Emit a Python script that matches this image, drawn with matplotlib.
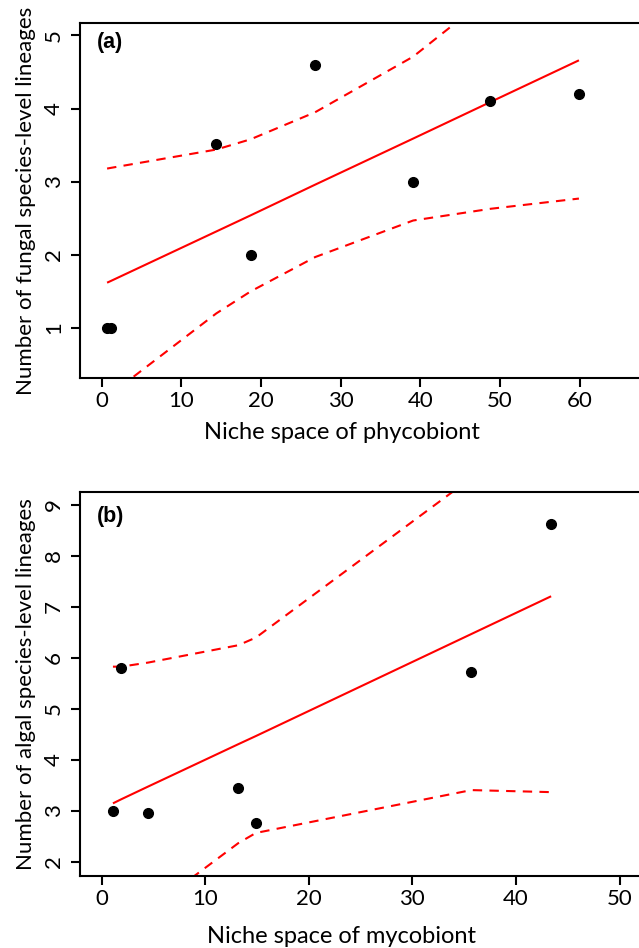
import numpy as np
import matplotlib
matplotlib.use("Agg")
import matplotlib.pyplot as plt

plt.rcParams["font.family"] = ["Lato", "DejaVu Sans"]

# -------------------------------
# Panel (a): fungal lineages vs phycobiont niche space
# -------------------------------

a_x = [0.7, 1.2, 14.4, 18.7, 26.8, 39.1, 48.8, 59.9]
a_y = [1.0, 1.0, 3.52, 2.0, 4.6, 3.0, 4.1, 4.2]
a_fit = [1.62, 1.645, 2.32, 2.54, 2.96, 3.59, 4.09, 4.66]
a_upper = [3.18, 3.19, 3.44, 3.58, 3.95, 4.71, 5.55, 6.55]
a_lower = [0.06, 0.10, 1.20, 1.50, 1.97, 2.47, 2.63, 2.77]
a_xticks = [0, 10, 20, 30, 40, 50, 60]
a_yticks = [1, 2, 3, 4, 5]

# -------------------------------
# Panel (b): algal lineages vs mycobiont niche space
# -------------------------------

b_x = [1.1, 1.9, 4.5, 13.2, 14.9, 35.7, 43.4]
b_y = [3.0, 5.81, 2.96, 3.46, 2.76, 5.72, 8.63]
b_fit = [3.15, 3.23, 3.48, 4.31, 4.47, 6.47, 7.21]
b_upper = [5.83, 5.83, 5.91, 6.25, 6.40, 9.53, 11.05]
b_lower = [0.47, 0.63, 1.05, 2.37, 2.57, 3.41, 3.37]
b_xticks = [0, 10, 20, 30, 40, 50]
b_yticks = [2, 3, 4, 5, 6, 7, 8, 9]


fig = plt.figure(figsize=(6.39, 9.48), dpi=100)

W, H = 639.0, 948.0


def panel(rect_px, xlim, ylim, x, y, fit, upper, lower, xticks, yticks,
          xlabel, ylabel, tag, tag_y, xlab_y):
    left, top, right, bottom = rect_px
    ax = fig.add_axes([left / W, 1 - bottom / H,
                       (right - left) / W, (bottom - top) / H])
    ax.set_xlim(*xlim)
    ax.set_ylim(*ylim)

    ax.plot(x, fit, color="red", lw=1.5, solid_capstyle="butt")
    ax.plot(x, upper, color="red", lw=1.5, dashes=(4.5, 3.5))
    ax.plot(x, lower, color="red", lw=1.5, dashes=(4.5, 3.5))
    ax.plot(x, y, "o", color="black", ms=7, mec="black")

    ax.set_xticks(xticks)
    ax.set_yticks(yticks)
    ax.tick_params(axis="both", length=6.5, width=1.5, labelsize=16,
                   direction="out")
    ax.tick_params(axis="x", pad=3)
    ax.tick_params(axis="y", pad=5)
    for lab in ax.get_yticklabels():
        lab.set_rotation(90)
        lab.set_va("center")

    for s in ["left", "top", "bottom"]:
        ax.spines[s].set_linewidth(1.5)
    ax.spines["right"].set_visible(False)

    ax.set_xlabel(xlabel, fontsize=17)
    ax.xaxis.set_label_coords(0.463, xlab_y)
    ax.set_ylabel(ylabel, fontsize=16, labelpad=6)
    ax.text(0.029, tag_y, tag, transform=ax.transAxes, fontsize=15.5,
            fontweight="bold", family="Liberation Sans",
            ha="left", va="center")
    return ax


panel((80, 23, 645.4, 378), (-2.7, 68.24), (0.317, 5.17),
      a_x, a_y, a_fit, a_upper, a_lower, a_xticks, a_yticks,
      "Niche space of phycobiont",
      "Number of fungal species-level lineages", "(a)", 0.945, -0.125)

panel((80, 491.7, 645.4, 876.3), (-2.08, 52.5), (1.72, 9.26),
      b_x, b_y, b_fit, b_upper, b_lower, b_xticks, b_yticks,
      "Niche space of mycobiont",
      "Number of algal species-level lineages", "(b)", 0.935, -0.13)

fig.savefig("out.png", dpi=100)
